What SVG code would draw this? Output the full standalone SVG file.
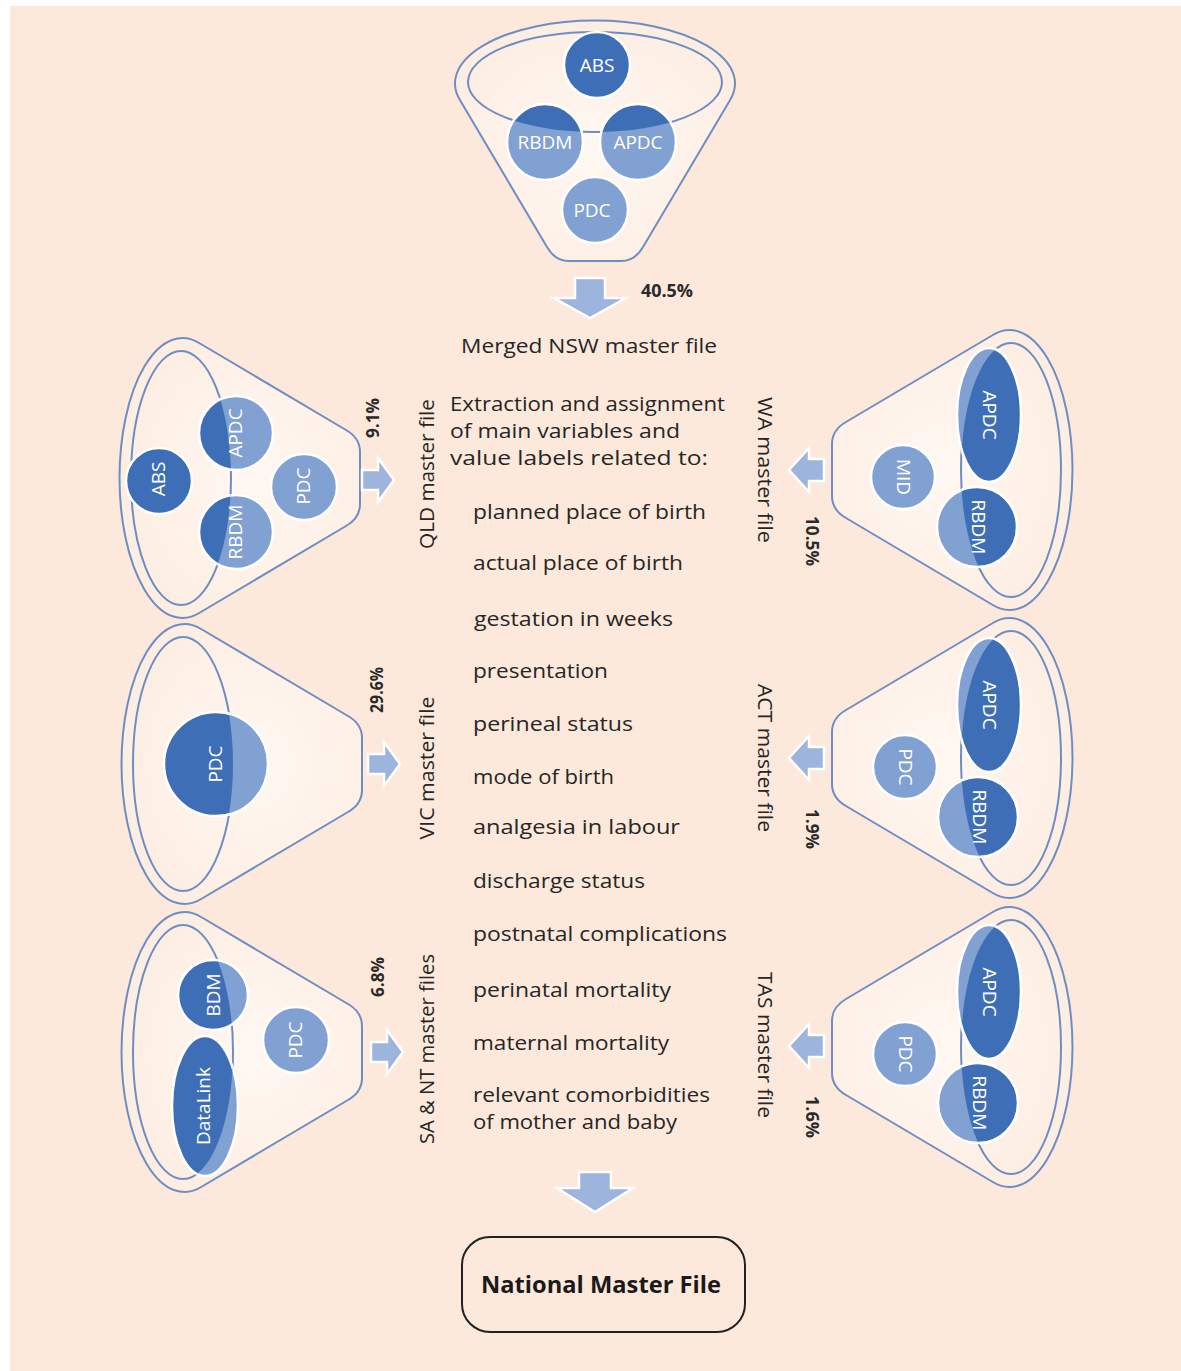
<svg xmlns="http://www.w3.org/2000/svg" xmlns:xlink="http://www.w3.org/1999/xlink" width="1181" height="1371" viewBox="0 0 1181 1371">
<style>
.fun{fill:url(#gF);stroke:#6E8EC3;stroke-width:2}
.inr{fill:none;stroke:#6E8EC3;stroke-width:2}
.lt{fill:#80A1D2;stroke:#ffffff;stroke-width:2.5}
.dk{fill:#3E6FB6;stroke:#ffffff;stroke-width:2.5}
.cl{font-family:"Open Sans","Liberation Sans",sans-serif;font-size:19px;fill:#ffffff;text-anchor:middle;dominant-baseline:central}
.tx{font-family:"Open Sans","Liberation Sans",sans-serif;font-size:20px;fill:#262626}
.vt{font-family:"Open Sans","Liberation Sans",sans-serif;font-size:20px;fill:#262626;text-anchor:middle;dominant-baseline:central}
.pc{font-family:"Open Sans","Liberation Sans",sans-serif;font-size:17px;font-weight:bold;fill:#2a2a2a;text-anchor:middle;dominant-baseline:central}
.ar{fill:#9DB4DC;stroke:#ffffff;stroke-width:2.5;stroke-linejoin:miter}
</style>
<defs>
<radialGradient id="gF" cx="0.55" cy="0.5" r="0.6">
<stop offset="0" stop-color="#FFF8F2"/>
<stop offset="1" stop-color="#FDEDE2"/>
</radialGradient>
<g id="funnel">
<path class="fun" d="M17,-134.5 L163,-48 Q177,-40 177,-26 L177,26 Q177,40 163,48 L17,134.5 A63 140 0 1 1 17,-134.5 Z"/>
<ellipse class="inr" cx="-2" cy="0" rx="50" ry="127"/>
</g>
<clipPath id="cNSW"><ellipse cx="595" cy="82" rx="128" ry="50"/></clipPath>
<clipPath id="cQLD"><ellipse cx="181" cy="478" rx="50" ry="127"/></clipPath>
<clipPath id="cVIC"><ellipse cx="183" cy="764" rx="50" ry="127"/></clipPath>
<clipPath id="cSA"><ellipse cx="183" cy="1052" rx="50" ry="127"/></clipPath>
<clipPath id="cWA"><ellipse cx="1011" cy="470" rx="50" ry="127"/></clipPath>
<clipPath id="cACT"><ellipse cx="1011" cy="758" rx="50" ry="127"/></clipPath>
<clipPath id="cTAS"><ellipse cx="1011" cy="1047" rx="50" ry="127"/></clipPath>
</defs>

<rect x="0" y="0" width="1181" height="1371" fill="#ffffff"/>
<rect x="10" y="6" width="1171" height="1365" fill="#FCE9DB"/>

<!-- NSW funnel -->
<g id="nsw">
<use xlink:href="#funnel" transform="translate(595,84) rotate(90)"/>
<circle class="dk" cx="597" cy="65" r="33"/>
<circle class="lt" cx="545" cy="142" r="38"/>
<circle class="dk" cx="545" cy="142" r="38" clip-path="url(#cNSW)"/>
<circle class="lt" cx="638" cy="142" r="38"/>
<circle class="dk" cx="638" cy="142" r="38" clip-path="url(#cNSW)"/>
<circle class="lt" cx="595" cy="210" r="33"/>
<text class="cl" x="597" y="65">ABS</text>
<text class="cl" x="545" y="142">RBDM</text>
<text class="cl" x="638" y="142">APDC</text>
<text class="cl" x="592" y="210">PDC</text>
</g>

<!-- QLD funnel -->
<g id="qld">
<use xlink:href="#funnel" transform="translate(183,478)"/>
<circle class="dk" cx="159" cy="481" r="33"/>
<circle class="lt" cx="236" cy="433" r="37"/>
<circle class="dk" cx="236" cy="433" r="37" clip-path="url(#cQLD)"/>
<circle class="lt" cx="236" cy="532" r="37"/>
<circle class="dk" cx="236" cy="532" r="37" clip-path="url(#cQLD)"/>
<circle class="lt" cx="304" cy="487" r="33"/>
<text class="cl" transform="translate(158,479) rotate(-90)">ABS</text>
<text class="cl" transform="translate(235,433) rotate(-90)">APDC</text>
<text class="cl" transform="translate(235,532) rotate(-90)">RBDM</text>
<text class="cl" transform="translate(303,486) rotate(-90)">PDC</text>
</g>

<!-- VIC funnel -->
<g id="vic">
<use xlink:href="#funnel" transform="translate(185,764)"/>
<circle class="lt" cx="216" cy="764" r="52"/>
<circle class="dk" cx="216" cy="764" r="52" clip-path="url(#cVIC)"/>
<text class="cl" transform="translate(215,764) rotate(-90)">PDC</text>
</g>

<!-- SA & NT funnel -->
<g id="sant">
<use xlink:href="#funnel" transform="translate(185,1052)"/>
<circle class="lt" cx="213" cy="995" r="35"/>
<circle class="dk" cx="213" cy="995" r="35" clip-path="url(#cSA)"/>
<ellipse class="lt" cx="205" cy="1106" rx="33" ry="70"/>
<ellipse class="dk" cx="205" cy="1106" rx="33" ry="70" clip-path="url(#cSA)"/>
<circle class="lt" cx="296" cy="1040" r="33"/>
<text class="cl" transform="translate(213,995) rotate(-90)">BDM</text>
<text class="cl" transform="translate(203,1106) rotate(-90)">DataLink</text>
<text class="cl" transform="translate(295,1040) rotate(-90)">PDC</text>
</g>

<!-- WA funnel -->
<g id="wa">
<use xlink:href="#funnel" transform="translate(1009,470) rotate(180)"/>
<ellipse class="lt" cx="989" cy="415" rx="32" ry="67"/>
<ellipse class="dk" cx="989" cy="415" rx="32" ry="67" clip-path="url(#cWA)"/>
<circle class="lt" cx="903" cy="477" r="32"/>
<circle class="lt" cx="977" cy="527" r="40"/>
<circle class="dk" cx="977" cy="527" r="40" clip-path="url(#cWA)"/>
<text class="cl" transform="translate(990,415) rotate(90)">APDC</text>
<text class="cl" transform="translate(904,477) rotate(90)">MID</text>
<text class="cl" transform="translate(979,527) rotate(90)">RBDM</text>
</g>

<!-- ACT funnel -->
<g id="act">
<use xlink:href="#funnel" transform="translate(1009,758) rotate(180)"/>
<ellipse class="lt" cx="989" cy="705" rx="32" ry="67"/>
<ellipse class="dk" cx="989" cy="705" rx="32" ry="67" clip-path="url(#cACT)"/>
<circle class="lt" cx="905" cy="767" r="32"/>
<circle class="lt" cx="978" cy="817" r="40"/>
<circle class="dk" cx="978" cy="817" r="40" clip-path="url(#cACT)"/>
<text class="cl" transform="translate(990,705) rotate(90)">APDC</text>
<text class="cl" transform="translate(906,767) rotate(90)">PDC</text>
<text class="cl" transform="translate(980,817) rotate(90)">RBDM</text>
</g>

<!-- TAS funnel -->
<g id="tas">
<use xlink:href="#funnel" transform="translate(1009,1047) rotate(180)"/>
<ellipse class="lt" cx="989" cy="992" rx="32" ry="67"/>
<ellipse class="dk" cx="989" cy="992" rx="32" ry="67" clip-path="url(#cTAS)"/>
<circle class="lt" cx="905" cy="1054" r="32"/>
<circle class="lt" cx="978" cy="1103" r="40"/>
<circle class="dk" cx="978" cy="1103" r="40" clip-path="url(#cTAS)"/>
<text class="cl" transform="translate(990,992) rotate(90)">APDC</text>
<text class="cl" transform="translate(906,1054) rotate(90)">PDC</text>
<text class="cl" transform="translate(980,1103) rotate(90)">RBDM</text>
</g>

<!-- connectors (block arrows) -->
<g id="connectors">
<path class="ar" d="M575,278 H605 V298 H626 L590,318 L554,298 H575 Z"/>
<path class="ar" d="M362,470 H378 V458 L394,480 L378,502 V490 H362 Z"/>
<path class="ar" d="M368,754 H384 V742 L400,764 L384,786 V774 H368 Z"/>
<path class="ar" d="M371,1042 H387 V1030 L403,1052 L387,1074 V1062 H371 Z"/>
<path class="ar" d="M824,459 H809 V448 L789,470 L809,492 V481 H824 Z"/>
<path class="ar" d="M824,747 H809 V736 L789,758 L809,780 V769 H824 Z"/>
<path class="ar" d="M824,1035 H809 V1024 L789,1046 L809,1068 V1057 H824 Z"/>
<path class="ar" d="M579,1172 H611 V1188 H633 L595,1212 L557,1188 H579 Z"/>
</g>

<!-- labels -->
<text class="pc" x="667" y="290" textLength="52" lengthAdjust="spacingAndGlyphs">40.5%</text>
<text class="vt" transform="translate(426,474) rotate(-90)" textLength="150" lengthAdjust="spacingAndGlyphs">QLD master file</text>
<text class="pc" transform="translate(372,418) rotate(-90)" textLength="40" lengthAdjust="spacingAndGlyphs">9.1%</text>
<text class="vt" transform="translate(426,768) rotate(-90)" textLength="143" lengthAdjust="spacingAndGlyphs">VIC master file</text>
<text class="pc" transform="translate(376,690) rotate(-90)" textLength="46" lengthAdjust="spacingAndGlyphs">29.6%</text>
<text class="vt" transform="translate(426,1049) rotate(-90)" textLength="190" lengthAdjust="spacingAndGlyphs">SA &amp; NT master files</text>
<text class="pc" transform="translate(377,977) rotate(-90)" textLength="40" lengthAdjust="spacingAndGlyphs">6.8%</text>
<text class="vt" transform="translate(765,470) rotate(90)" textLength="146" lengthAdjust="spacingAndGlyphs">WA master file</text>
<text class="pc" transform="translate(812,541) rotate(90)" textLength="50" lengthAdjust="spacingAndGlyphs">10.5%</text>
<text class="vt" transform="translate(765,758) rotate(90)" textLength="148" lengthAdjust="spacingAndGlyphs">ACT master file</text>
<text class="pc" transform="translate(812,829) rotate(90)" textLength="40" lengthAdjust="spacingAndGlyphs">1.9%</text>
<text class="vt" transform="translate(765,1045) rotate(90)" textLength="146" lengthAdjust="spacingAndGlyphs">TAS master file</text>
<text class="pc" transform="translate(812,1117) rotate(90)" textLength="42" lengthAdjust="spacingAndGlyphs">1.6%</text>

<g id="variables">
<text class="tx" x="461" y="353" textLength="256" lengthAdjust="spacingAndGlyphs">Merged NSW master file</text>
<text class="tx" x="450" y="411" textLength="275" lengthAdjust="spacingAndGlyphs">Extraction and assignment</text>
<text class="tx" x="450" y="438" textLength="230" lengthAdjust="spacingAndGlyphs">of main variables and</text>
<text class="tx" x="450" y="465" textLength="258" lengthAdjust="spacingAndGlyphs">value labels related to:</text>
<text class="tx" x="473" y="519" textLength="233" lengthAdjust="spacingAndGlyphs">planned place of birth</text>
<text class="tx" x="473" y="570" textLength="210" lengthAdjust="spacingAndGlyphs">actual place of birth</text>
<text class="tx" x="474" y="626" textLength="199" lengthAdjust="spacingAndGlyphs">gestation in weeks</text>
<text class="tx" x="473" y="678" textLength="135" lengthAdjust="spacingAndGlyphs">presentation</text>
<text class="tx" x="473" y="731" textLength="160" lengthAdjust="spacingAndGlyphs">perineal status</text>
<text class="tx" x="473" y="784" textLength="141" lengthAdjust="spacingAndGlyphs">mode of birth</text>
<text class="tx" x="473" y="834" textLength="207" lengthAdjust="spacingAndGlyphs">analgesia in labour</text>
<text class="tx" x="473" y="888" textLength="172" lengthAdjust="spacingAndGlyphs">discharge status</text>
<text class="tx" x="473" y="941" textLength="254" lengthAdjust="spacingAndGlyphs">postnatal complications</text>
<text class="tx" x="473" y="997" textLength="198" lengthAdjust="spacingAndGlyphs">perinatal mortality</text>
<text class="tx" x="473" y="1050" textLength="196" lengthAdjust="spacingAndGlyphs">maternal mortality</text>
<text class="tx" x="473" y="1102" textLength="237" lengthAdjust="spacingAndGlyphs">relevant comorbidities</text>
<text class="tx" x="473" y="1129" textLength="204" lengthAdjust="spacingAndGlyphs">of mother and baby</text>
</g>

<g id="national">
<rect x="462" y="1237" width="283" height="95" rx="28" ry="28" fill="none" stroke="#222222" stroke-width="2"/>
<text x="601" y="1293" font-family="'Open Sans','Liberation Sans',sans-serif" font-size="23" font-weight="bold" fill="#1a1a1a" text-anchor="middle" textLength="240" lengthAdjust="spacingAndGlyphs">National Master File</text>
</g>
</svg>
